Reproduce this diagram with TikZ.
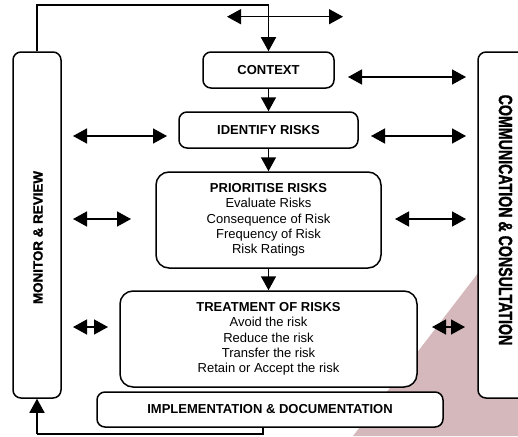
\documentclass[tikz,border=0pt]{standalone}
\usepackage{fontspec}
\setmainfont{Liberation Sans}
\newfontfamily\heavyfont[BoldFeatures={FakeBold=1.3}]{Liberation Sans}
\usetikzlibrary{arrows.meta}
\definecolor{pinkbg}{RGB}{213,184,187}
\tikzset{
  box/.style={draw, line width=1.5pt, fill=white, rounded corners=8pt, inner sep=0pt, align=center,
    font=\fontsize{13}{15.3}\selectfont},
  bigbox/.style={box, rounded corners=13pt},
  conn/.style={line width=1.5pt, -{Triangle[length=14pt,width=15pt]}},
  dbl/.style={line width=1.5pt, {Triangle[length=14pt,width=15pt]}-{Triangle[length=14pt,width=15pt]}},
  sidelabel/.style={font=\heavyfont\bfseries},
}
\begin{document}
\begin{tikzpicture}[x=1pt,y=-1pt]
\useasboundingbox (0,0) rectangle (518,436);
\fill[pinkbg] (353,436) -- (518,221) -- (518,436) -- cycle;

\node[box, minimum width=131pt, minimum height=36pt] (ctx) at (268.5,70) {\textbf{CONTEXT}};
\node[box, minimum width=179pt, minimum height=36pt] (idf) at (268.5,130) {\textbf{IDENTIFY RISKS}};
\node[bigbox, minimum width=225pt, minimum height=96pt] (pri) at (268.5,220)
  {\textbf{PRIORITISE RISKS}\\Evaluate Risks\\Consequence of Risk\\Frequency of Risk\\Risk Ratings};
\node[bigbox, minimum width=297pt, minimum height=96pt] (trt) at (268.5,339)
  {\textbf{TREATMENT OF RISKS}\\Avoid the risk\\Reduce the risk\\Transfer the risk\\Retain or Accept the risk};
\node[box, minimum width=346pt, minimum height=35pt] (imp) at (270,409.5) {\textbf{IMPLEMENTATION \& DOCUMENTATION}};
\node[box, minimum width=48pt, minimum height=346pt] (mon) at (37,225) {};
\node[sidelabel, rotate=90] (monl) at (38,237.5) {\fontsize{13.4}{15}\selectfont MONITOR \& REVIEW};
\node[box, minimum width=52pt, minimum height=346pt] (com) at (504,225) {};
\node[sidelabel, rotate=-90] (coml) at (505.5,220) {\fontsize{14.2}{15}\selectfont\scalebox{1}[1.35]{COMMUNICATION \& CONSULTATION}};

% vertical flow
\draw[conn] (ctx) -- (idf);
\draw[conn] (idf) -- (pri);
\draw[conn] (pri) -- (trt);

% feedback loops
\coordinate (tfb) at (268.5,5);
\draw[line width=1.5pt] (mon.north) |- (tfb);
\draw[conn] (tfb) -- (ctx.north);
\coordinate (bfa) at (263,434);
\coordinate (bfb) at (37,434);
\draw[line width=1.5pt] (imp.south -| bfa) -- (bfa) -- (bfb);
\draw[conn] (bfb) -- (mon.south);

% double arrows
\coordinate (ta1) at (227,16.7); \coordinate (ta2) at (343,16.7);
\draw[dbl] (ta1) -- (ta2);
\coordinate (l1a) at (73,136); \coordinate (l1b) at (167,136);
\coordinate (l2a) at (73,219); \coordinate (l2b) at (131,219);
\coordinate (l3a) at (73,327); \coordinate (l3b) at (108,327);
\draw[dbl] (l1a) -- (l1b);
\draw[dbl] (l2a) -- (l2b);
\draw[dbl] (l3a) -- (l3b);
\coordinate (r0a) at (348,77); \coordinate (r0b) at (466,77);
\coordinate (r1a) at (371,136); \coordinate (r1b) at (466,136);
\coordinate (r2a) at (395,219); \coordinate (r2b) at (466,219);
\coordinate (r3a) at (432,327); \coordinate (r3b) at (465,327);
\draw[dbl] (r0a) -- (r0b);
\draw[dbl] (r1a) -- (r1b);
\draw[dbl] (r2a) -- (r2b);
\draw[dbl] (r3a) -- (r3b);
\end{tikzpicture}
\end{document}
